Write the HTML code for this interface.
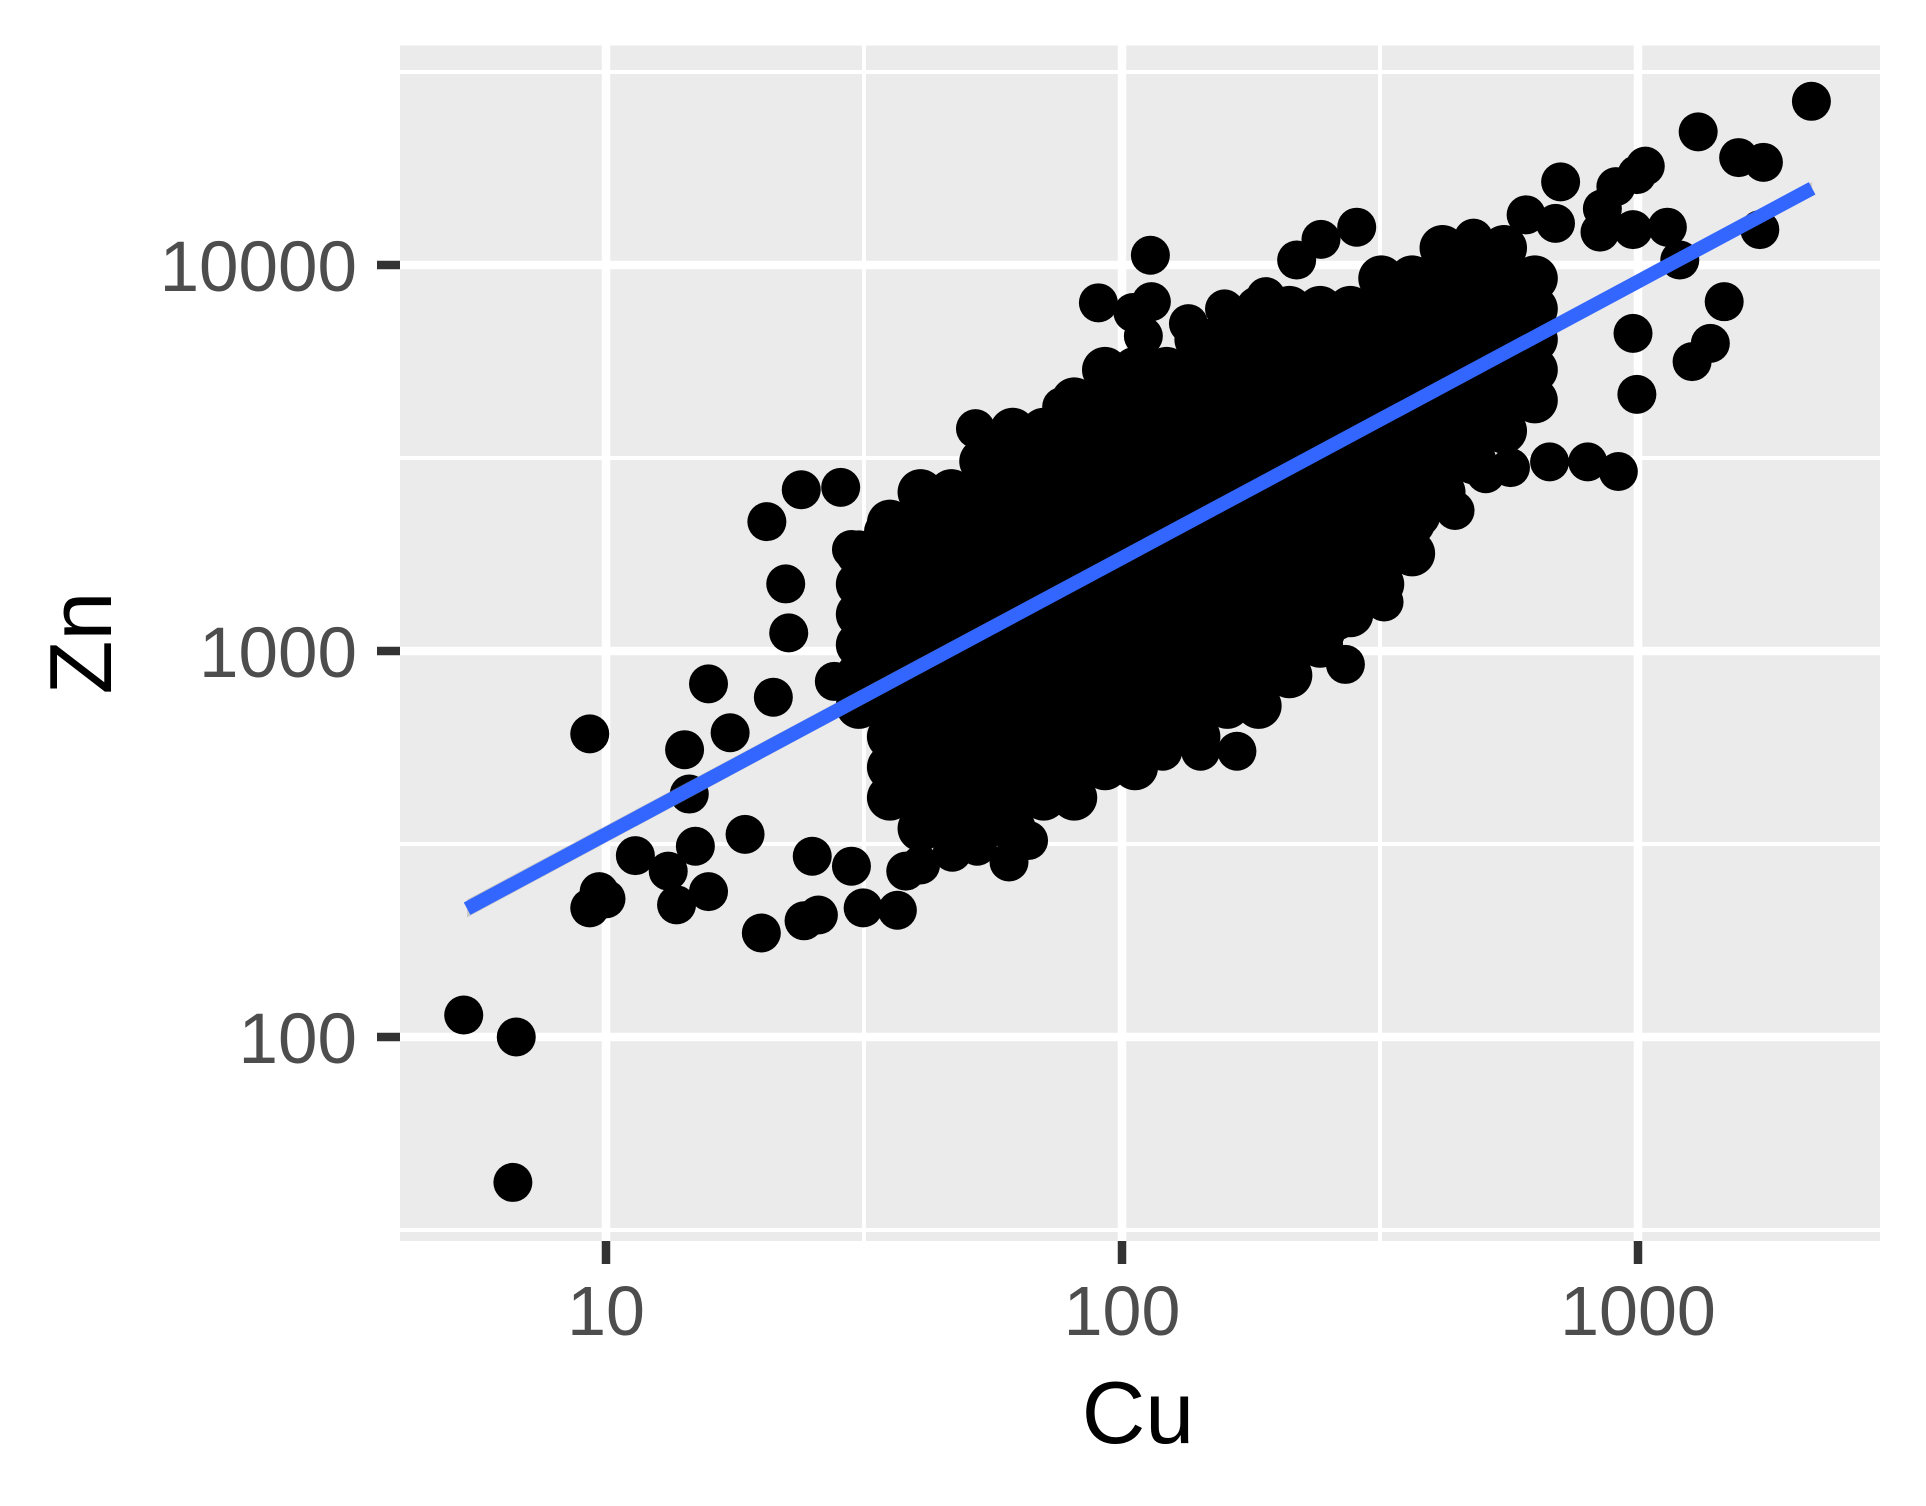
<!DOCTYPE html>
<html><head><meta charset="utf-8">
<style>
html,body{margin:0;padding:0;background:#fff;}
svg{display:block;}
text{font-family:"Liberation Sans",Arial,sans-serif;}
</style></head>
<body>
<svg id="chart" width="1926" height="1506" viewBox="0 0 1926 1506" xmlns="http://www.w3.org/2000/svg">
<rect x="400" y="45.5" width="1480" height="1195.5" fill="#EBEBEB"/>
<g id="grid"></g>
<g id="points"></g>
<g id="fit"></g>
<g id="axes"></g>
<text x="1138" y="1443" font-size="88" text-anchor="middle" fill="#000">Cu</text>
<text transform="translate(111,643) rotate(-90)" font-size="88" text-anchor="middle" fill="#000">Zn</text>
</svg>
<script>
const xTicks = [10, 100, 1000];
const xTickLabels = ["10", "100", "1000"];
const yTicks = [100, 1000, 10000];
const yTickLabels = ["100", "1000", "10000"];
const xMinor = [31.62, 316.2];
const yMinor = [31.62, 316.2, 3162, 31623];

// outlier / edge points
const outCu = [5.3,6.7,6.6,9.3,9.3,9.7,10,11.4,13.7,14.2,15.8,15.8,14.5,13.2,14.9,20,18.6,20.5,23.9,28.5,22.3,22.6,21.1,17.4,24.2,25.8,25.1,31.5,36.7,29.9,27.7,29.9,34.5,39.6,52,55.6,76.4,90,97.7,113.5,105,114,110,134.5,158,190,218,243,285,365,480,607,708,692,844,906,995,1033,853,978,1140,1205,1308,1567,1750,2168,1722,1469,1381,1273,995,978,916,799,674,566,507,442,379,322,271,262,248,217,200,181,167,142,120,102,86.8,74.3,68.5,65.9,60.4,52.4,46.9,40.7,38.1,45.4,53.6,121.9,147.6];
const outZn = [114,100,42,610,216,238,228,295,220,555,822,238,426,269,312,186,335,2163,2617,2654,1492,1114,759,614,200,207,294,216,213,277,834,1832,2042,2228,3767,3404,4295,7980,5224,10600,7530,8035,6546,7047,7695,8279,10300,11650,12530,8890,11740,13490,16420,12820,12170,15960,17150,18030,13990,12350,12530,10300,22130,18980,18450,26550,12350,8035,6266,5620,4623,6650,2917,3090,3090,2985,2879,2312,2228,1340,923,1199,1114,1076,930,834,550,550,550,550,614,519,432,323,284,312,301,279,269,466,519,670,746];

// dense core: one Zn level per row with the Cu values observed on that row
const coreZn = [11070,9230,7700,6410,5350,4460,3720,3100,2580,2150,1790,1490,1245,1038,865,721,600,500,417,347];
const coreCu = [
 [418,480,550],
 [318,365,418,480,550,631],
 [184,211,242,277,318,365,418,480,550,631],
 [140,160,184,211,242,277,318,365,418,480,550,631],
 [92.7,106,122,140,160,184,211,242,277,318,365,418,480,550,631],
 [80.8,92.7,106,122,140,160,184,211,242,277,318,365,418,480,550,631],
 [61.4,70.5,80.8,92.7,106,122,140,160,184,211,242,277,318,365,418,480,550],
 [53.6,61.4,70.5,80.8,92.7,106,122,140,160,184,211,242,277,318,365,418,480],
 [40.7,46.7,53.6,61.4,70.5,80.8,92.7,106,122,140,160,184,211,242,277,318,365,418],
 [35.5,40.7,46.7,53.6,61.4,70.5,80.8,92.7,106,122,140,160,184,211,242,277,318,365],
 [30.9,35.5,40.7,46.7,53.6,61.4,70.5,80.8,92.7,106,122,140,160,184,211,242,277,318,365],
 [30.9,35.5,40.7,46.7,53.6,61.4,70.5,80.8,92.7,106,122,140,160,184,211,242,277,318],
 [30.9,35.5,40.7,46.7,53.6,61.4,70.5,80.8,92.7,106,122,140,160,184,211,242,277],
 [30.9,35.5,40.7,46.7,53.6,61.4,70.5,80.8,92.7,106,122,140,160,184,211,242],
 [30.9,35.5,40.7,46.7,53.6,61.4,70.5,80.8,92.7,106,122,140,160,184,211],
 [30.9,35.5,40.7,46.7,53.6,61.4,70.5,80.8,92.7,106,122,140,160,184],
 [35.5,40.7,46.7,53.6,61.4,70.5,80.8,92.7,106,122,140],
 [35.5,40.7,46.7,53.6,61.4,70.5,80.8,92.7,106],
 [35.5,40.7,46.7,53.6,61.4,70.5,80.8],
 [40.7,46.7,53.6,61.4]
];

// fitted regression endpoints
const fitCu = [5.38, 2175];
const fitZn = [215, 15800];
const fitLo = [204, 15250];
const fitHi = [227, 16400];

const NS = "http://www.w3.org/2000/svg";
const X0 = 400, X1 = 1880, Y0 = 45.5, Y1 = 1241;
function sx(v){ return 606 + 516 * (Math.log10(v) - 1); }
function sy(v){ return 265 + 386 * (4 - Math.log10(v)); }
function mk(tag, attrs, parent){
  const e = document.createElementNS(NS, tag);
  for (const k in attrs) e.setAttribute(k, attrs[k]);
  parent.appendChild(e);
  return e;
}
const grid = document.getElementById('grid');
const axes = document.getElementById('axes');
const pts = document.getElementById('points');
const fit = document.getElementById('fit');

xMinor.forEach(v => {
  const l = mk('line', {x1: sx(v), x2: sx(v), y1: Y0, y2: Y1, stroke: '#fff', 'stroke-width': 4}, grid);
  
  
});
yMinor.forEach(v => {
  const l = mk('line', {x1: X0, x2: X1, y1: sy(v), y2: sy(v), stroke: '#fff', 'stroke-width': 4}, grid);
  
  
});
xTicks.forEach((v, i) => {
  const x = sx(v);
  const l = mk('line', {x1: x, x2: x, y1: Y0, y2: Y1, stroke: '#fff', 'stroke-width': 8.5}, grid);
  
  
  const t = mk('line', {x1: x, x2: x, y1: Y1, y2: Y1 + 23, stroke: '#333', 'stroke-width': 8.5}, axes);
  
  
  const tx = mk('text', {x: x, y: 1335, 'font-size': 70, 'text-anchor': 'middle', fill: '#4D4D4D'}, axes);
  tx.textContent = xTickLabels[i];
  
  
});
yTicks.forEach((v, i) => {
  const y = sy(v);
  const l = mk('line', {x1: X0, x2: X1, y1: y, y2: y, stroke: '#fff', 'stroke-width': 8.5}, grid);
  
  
  const t = mk('line', {x1: X0 - 23, x2: X0, y1: y, y2: y, stroke: '#333', 'stroke-width': 8.5}, axes);
  
  
  const tx = mk('text', {x: 357, y: y + 26, 'font-size': 71, 'text-anchor': 'end', fill: '#4D4D4D'}, axes);
  tx.textContent = yTickLabels[i];
  
  
});

coreZn.forEach((z, r) => {
  coreCu[r].forEach(c => {
    const p = mk('circle', {cx: sx(c), cy: sy(z), r: 23, fill: '#000'}, pts);
    
    
  });
});
outCu.forEach((c, i) => {
  const p = mk('circle', {cx: sx(c), cy: sy(outZn[i]), r: 19.5, fill: '#000'}, pts);
  
  
});

const band = mk('polygon', {
  points: `${sx(fitCu[0])},${sy(fitHi[0])} ${sx(fitCu[1])},${sy(fitHi[1])} ${sx(fitCu[1])},${sy(fitLo[1])} ${sx(fitCu[0])},${sy(fitLo[0])}`,
  fill: '#999', 'fill-opacity': 0.4}, fit);


const ln = mk('line', {x1: sx(fitCu[0]), y1: sy(fitZn[0]), x2: sx(fitCu[1]), y2: sy(fitZn[1]), stroke: '#3366FF', 'stroke-width': 14}, fit);


</script>
</body></html>
